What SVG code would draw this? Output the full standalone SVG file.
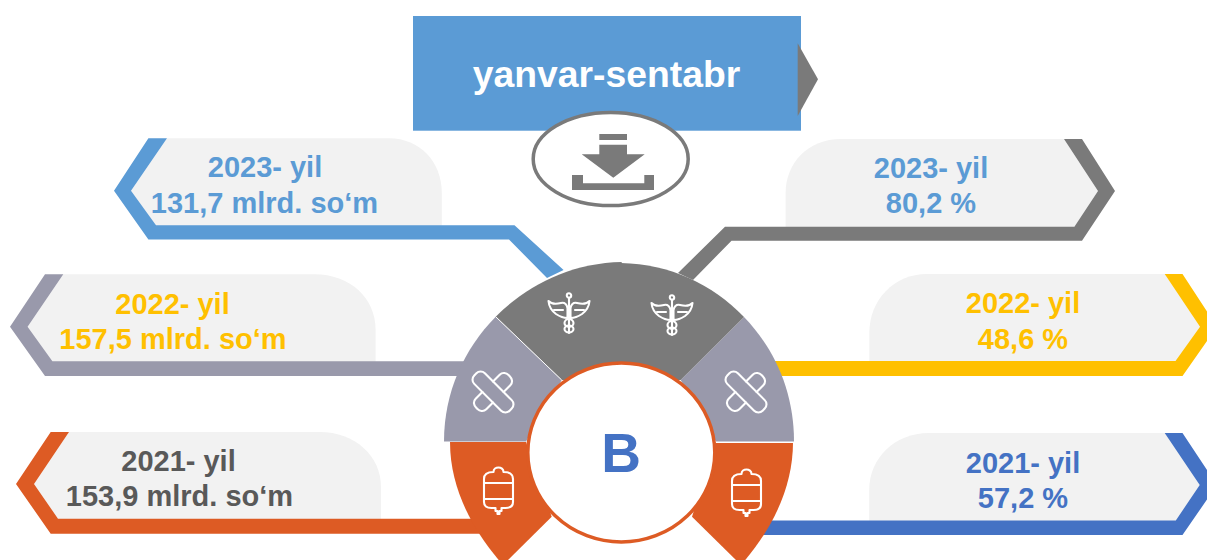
<svg xmlns="http://www.w3.org/2000/svg" width="1207" height="560" viewBox="0 0 1207 560">
<style>
.t{font-family:"Liberation Sans",Arial,sans-serif;font-weight:700;font-size:29px}
.bg{fill:#f2f2f2}
.i{fill:none;stroke:#fff;stroke-width:2.100;stroke-linejoin:round;stroke-linecap:round}
.blue{fill:#5b9bd5}.gold{fill:#ffc000}.dk{fill:#595959}.ind{fill:#4472c4}
</style>
<defs>
<g id="cad" class="i">
<circle cx="0" cy="-17.500" r="2.200"/>
<path d="M0-15V20"/>
<path d="M-20.500-12C-17-8-12-9-8-10C-4-11-2-8-1.500-5V5C-6 5-10 3-13 1C-17-2-20-6-20.500-12Z"/>
<path d="M20.500-12C17-8 12-9 8-10C4-11 2-8 1.500-5V5C6 5 10 3 13 1C17-2 20-6 20.500-12Z"/>
<path d="M-15-3H-6M15-3H6"/>
<ellipse cx="0" cy="10" rx="4.500" ry="4"/>
<ellipse cx="0" cy="16" rx="4.500" ry="3.500"/>
</g>
<g id="band" class="i">
<g transform="rotate(45)">
<rect x="-25" y="-7.500" width="50" height="15" rx="6"/>
<path d="M-7.500 7.500V17C-7.500 21-4 23-1 23H1C4 23 7.500 21 7.500 17V7.500M-7.500-7.500V-17C-7.500-21-4-23-1-23H1C4-23 7.500-21 7.500-17V-7.500"/>
</g>
</g>
<g id="bag" class="i">
<path d="M-14.500-8C-14.500-13-11-15-5-15C-5-21 5-21 5-15C11-15 14.500-13 14.500-8V15C14.500 19 12 21 7 21H3V24H1V27H-1V24H-3V21H-7C-12 21-14.500 19-14.500 15Z"/>
<path d="M-14.500-4H14.500M-14.500 12H14.500"/>
</g>
</defs>
<g id="connectors">
<path class="bg" d="M167 138.300H389C420 138.300 441.800 162 441.800 193V226H156L131 190.700Z"/>
<path class="blue" d="M114 190.700L148.400 138.300H167L131 190.700L156 225.300H514.500L563.600 270L547 278L509 239.500H148.400Z"/>
<path class="bg" d="M63.300 274.300H314.500C350 274.300 375.600 298 375.600 330V362H52.400L27.600 326.700Z"/>
<path d="M10 326.700L45 274.300H63.300L27.600 326.700L52.400 361.300H470V376H45Z" fill="#9999ab"/>
<path class="bg" d="M69 432H319.600C355 432 381 456 381 487V519H58L34 484Z"/>
<path d="M16 484L50.700 432H69L34 484L58 518.700H480V533.700H50.700Z" fill="#dd5b24"/>
<path class="bg" d="M1064 139H841C808 139 785.600 163 785.600 193V227H1074.400L1098 191Z"/>
<path d="M1064 139H1082L1115 191L1082 240.700H731.500L693 280L678 273L725 226.700H1074.400L1098 191Z" fill="#7a7a7a"/>
<path class="bg" d="M1165 274H927C894 274 869.300 300 869.300 333V362H1175.500L1200 326.700Z"/>
<path class="gold" d="M1164.700 274H1182.500L1217 326.700L1182.500 376H770V361H1175.500L1200 326.700Z"/>
<path class="bg" d="M1165 433H928.700C895 433 869.200 458 869.200 490V521H1175.800L1199.700 485Z"/>
<path class="ind" d="M1164.700 433H1182.500L1217 485L1182.500 535H760V520.500H1175.800L1199.700 485Z"/>
</g>
<g id="header">
<rect x="413" y="16" width="388" height="114.700" fill="#5b9bd5"/>
<path d="M797.700 43.300L818 79.300L797.700 116Z" fill="#7a7a7a"/>
<text x="606.500" y="87" text-anchor="middle" class="t" style="font-size:37.300px" fill="#fff">yanvar-sentabr</text>
</g>
<g id="download">
<ellipse cx="610.700" cy="159" rx="77.500" ry="46.500" fill="#fff" stroke="#7a7a7a" stroke-width="3.500"/>
<path d="M599.300 134H627V140H599.300ZM599.300 144.700H627V154.300H644.700L613.300 177.700L581.700 154.300H599.300ZM572 175H583V183.300H644.300V175H654V190H572Z" fill="#7a7a7a"/>
</g>
<g id="label-2023-left"><text class="t blue" x="265" y="177" text-anchor="middle">2023- yil</text><text class="t blue" x="264.500" y="212.700" text-anchor="middle">131,7 mlrd. so‘m</text></g>
<g id="label-2022-left"><text class="t gold" x="172.500" y="314" text-anchor="middle">2022- yil</text><text class="t gold" x="173" y="349" text-anchor="middle">157,5 mlrd. so‘m</text></g>
<g id="label-2021-left"><text class="t dk" x="178.500" y="471" text-anchor="middle">2021- yil</text><text class="t dk" x="179.500" y="506" text-anchor="middle">153,9 mlrd. so‘m</text></g>
<g id="label-2023-right"><text class="t blue" x="931" y="178" text-anchor="middle">2023- yil</text><text class="t blue" x="931" y="213" text-anchor="middle">80,2 %</text></g>
<g id="label-2022-right"><text class="t gold" x="1023" y="313" text-anchor="middle">2022- yil</text><text class="t gold" x="1023" y="349" text-anchor="middle">48,6 %</text></g>
<g id="label-2021-right"><text class="t ind" x="1023" y="473" text-anchor="middle">2021- yil</text><text class="t ind" x="1023" y="508" text-anchor="middle">57,2 %</text></g>
<g id="disc">
<path d="M450 442H526L551.700 516.700L503 565C474 532 450 490 450 442Z" fill="#dd5b24"/>
<path d="M793 442H716L692 516.700L741 565C770 532 793 490 793 442Z" fill="#dd5b24"/>
<path d="M444 441.500C444 392 464 349 495.700 316.700L561.700 380L526 441.500Z" fill="#9999ab"/>
<path d="M794 441.500C794 392 775 349 744 317L680.700 380L716 441.500Z" fill="#9999ab"/>
<path d="M495.700 316.700C527 285 571 263 621.700 262L621.700 380H561.700Z" fill="#7a7a7a"/>
<path d="M744 317C712 284 670 264 621 263V380H680.700Z" fill="#7a7a7a"/>
<path d="M495.700 316.700L561.700 380" stroke="#fff" stroke-width="1" fill="none"/>
<path d="M716 442.500H793" stroke="#fff" stroke-width="1" fill="none"/>
<ellipse cx="621.300" cy="452.500" rx="93.500" ry="89.500" fill="#fff" stroke="#dd5b24" stroke-width="3.500"/>
<text class="t ind" x="621" y="472.300" text-anchor="middle" style="font-size:55px">B</text>
</g>
<g id="icons">
<use href="#cad" x="569" y="313"/>
<use href="#cad" x="672" y="315"/>
<use href="#band" x="493" y="392"/>
<use href="#band" x="746" y="392"/>
<use href="#bag" x="498.500" y="487"/>
<use href="#bag" x="746.500" y="489"/>
</g>
</svg>
